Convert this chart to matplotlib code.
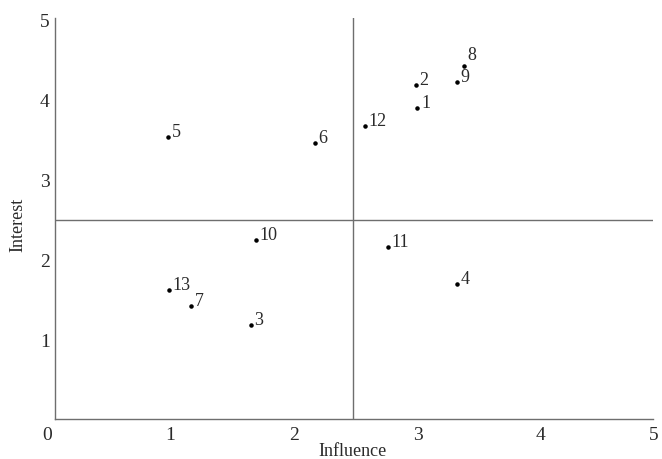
import matplotlib.pyplot as plt
import matplotlib.transforms as mtransforms

# stakeholder positions
ids = ['1', '2', '3', '4', '5', '6', '7', '8', '9', '10', '11', '12', '13']
influence = [3.00, 2.99, 1.65, 3.32, 0.98, 2.17, 1.17, 3.38, 3.32, 1.69, 2.76, 2.575, 0.99]
interest = [3.94, 4.22, 1.22, 1.74, 3.575, 3.50, 1.46, 4.46, 4.26, 2.29, 2.20, 3.71, 1.66]
x_ticks = [0, 1, 2, 3, 4, 5]
y_ticks = [1, 2, 3, 4, 5]
mid_x = 2.48
mid_y = 2.54

plt.rcParams['font.family'] = ['Liberation Serif', 'DejaVu Serif']
line_col = '#6e6e6e'
text_col = '#2a2a2a'

fig = plt.figure(figsize=(6.62, 4.59), dpi=100)
ax = fig.add_axes([55 / 662, 40 / 459, 598 / 662, 401 / 459])
ax.set_xlim(0.065, 4.907)
ax.set_ylim(0.05, 5.06)

for s in ['top', 'right']:
    ax.spines[s].set_visible(False)
for s in ['left', 'bottom']:
    ax.spines[s].set_color(line_col)
    ax.spines[s].set_linewidth(1.0)
ax.set_xticks([])
ax.set_yticks([])

ax.axvline(mid_x, color=line_col, lw=1.0)
ax.axhline(mid_y, color=line_col, lw=1.0)

ax.scatter(influence, interest, s=5, color='black', zorder=3)
for name, xv, yv in zip(ids, influence, interest):
    dx, dy = 2.5, 0
    if name == '8':
        dx, dy = 2, 4
    ax.annotate(name, (xv, yv), xytext=(dx, dy), textcoords='offset points',
                ha='left', va='baseline', fontsize=13, color=text_col)

# tick labels sit off the axis lines, so place them as text
xt = mtransforms.blended_transform_factory(ax.transData, fig.transFigure)
for v in x_ticks:
    xv = 4.91 if v == 5 else v
    ax.text(xv, 1 - 436 / 459, str(v), transform=xt, ha='center', va='center',
            fontsize=14, color=text_col, clip_on=False)
yt = mtransforms.blended_transform_factory(fig.transFigure, ax.transData)
for v in y_ticks:
    ax.text(45 / 662, v, str(v), transform=yt, ha='center', va='center',
            fontsize=14, color=text_col, clip_on=False)

fig.text(353 / 662, 1 - 452 / 459, 'Influence', ha='center', va='center',
         fontsize=13, color=text_col)
fig.text(18 / 662, 1 - 225 / 459, 'Interest', ha='center', va='center',
         rotation=90, fontsize=13, color=text_col)

fig.savefig('out.png', dpi=100)
